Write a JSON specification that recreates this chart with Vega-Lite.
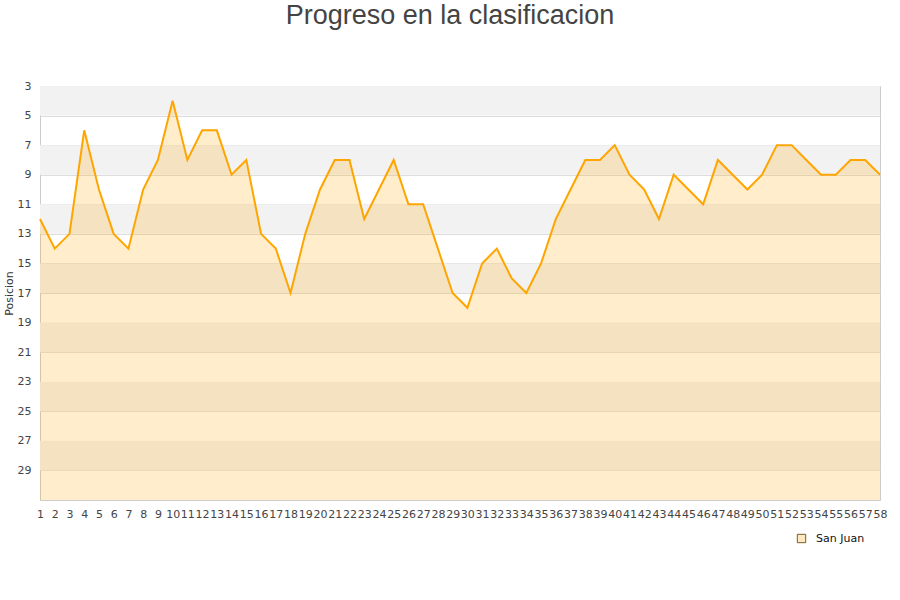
{
  "$schema": "https://vega.github.io/schema/vega-lite/v6.json",
  "autosize": "none",
  "padding": {"left": 40, "top": 86, "right": 20, "bottom": 100},
  "width": 840,
  "height": 414,
  "background": "white",
  "title": {
    "text": "Progreso en la clasificacion",
    "anchor": "middle",
    "dx": -10,
    "offset": 50,
    "font": "Liberation Sans",
    "fontSize": 27,
    "fontWeight": "normal",
    "color": "#444444"
  },
  "datasets": {
    "bandas": [
      {"desde": 3, "hasta": 5},
      {"desde": 7, "hasta": 9},
      {"desde": 11, "hasta": 13},
      {"desde": 15, "hasta": 17},
      {"desde": 19, "hasta": 21},
      {"desde": 23, "hasta": 25},
      {"desde": 27, "hasta": 29}
    ],
    "progreso": [
      {"jornada": 1, "posicion": 12, "equipo": "San Juan"},
      {"jornada": 2, "posicion": 14, "equipo": "San Juan"},
      {"jornada": 3, "posicion": 13, "equipo": "San Juan"},
      {"jornada": 4, "posicion": 6, "equipo": "San Juan"},
      {"jornada": 5, "posicion": 10, "equipo": "San Juan"},
      {"jornada": 6, "posicion": 13, "equipo": "San Juan"},
      {"jornada": 7, "posicion": 14, "equipo": "San Juan"},
      {"jornada": 8, "posicion": 10, "equipo": "San Juan"},
      {"jornada": 9, "posicion": 8, "equipo": "San Juan"},
      {"jornada": 10, "posicion": 4, "equipo": "San Juan"},
      {"jornada": 11, "posicion": 8, "equipo": "San Juan"},
      {"jornada": 12, "posicion": 6, "equipo": "San Juan"},
      {"jornada": 13, "posicion": 6, "equipo": "San Juan"},
      {"jornada": 14, "posicion": 9, "equipo": "San Juan"},
      {"jornada": 15, "posicion": 8, "equipo": "San Juan"},
      {"jornada": 16, "posicion": 13, "equipo": "San Juan"},
      {"jornada": 17, "posicion": 14, "equipo": "San Juan"},
      {"jornada": 18, "posicion": 17, "equipo": "San Juan"},
      {"jornada": 19, "posicion": 13, "equipo": "San Juan"},
      {"jornada": 20, "posicion": 10, "equipo": "San Juan"},
      {"jornada": 21, "posicion": 8, "equipo": "San Juan"},
      {"jornada": 22, "posicion": 8, "equipo": "San Juan"},
      {"jornada": 23, "posicion": 12, "equipo": "San Juan"},
      {"jornada": 24, "posicion": 10, "equipo": "San Juan"},
      {"jornada": 25, "posicion": 8, "equipo": "San Juan"},
      {"jornada": 26, "posicion": 11, "equipo": "San Juan"},
      {"jornada": 27, "posicion": 11, "equipo": "San Juan"},
      {"jornada": 28, "posicion": 14, "equipo": "San Juan"},
      {"jornada": 29, "posicion": 17, "equipo": "San Juan"},
      {"jornada": 30, "posicion": 18, "equipo": "San Juan"},
      {"jornada": 31, "posicion": 15, "equipo": "San Juan"},
      {"jornada": 32, "posicion": 14, "equipo": "San Juan"},
      {"jornada": 33, "posicion": 16, "equipo": "San Juan"},
      {"jornada": 34, "posicion": 17, "equipo": "San Juan"},
      {"jornada": 35, "posicion": 15, "equipo": "San Juan"},
      {"jornada": 36, "posicion": 12, "equipo": "San Juan"},
      {"jornada": 37, "posicion": 10, "equipo": "San Juan"},
      {"jornada": 38, "posicion": 8, "equipo": "San Juan"},
      {"jornada": 39, "posicion": 8, "equipo": "San Juan"},
      {"jornada": 40, "posicion": 7, "equipo": "San Juan"},
      {"jornada": 41, "posicion": 9, "equipo": "San Juan"},
      {"jornada": 42, "posicion": 10, "equipo": "San Juan"},
      {"jornada": 43, "posicion": 12, "equipo": "San Juan"},
      {"jornada": 44, "posicion": 9, "equipo": "San Juan"},
      {"jornada": 45, "posicion": 10, "equipo": "San Juan"},
      {"jornada": 46, "posicion": 11, "equipo": "San Juan"},
      {"jornada": 47, "posicion": 8, "equipo": "San Juan"},
      {"jornada": 48, "posicion": 9, "equipo": "San Juan"},
      {"jornada": 49, "posicion": 10, "equipo": "San Juan"},
      {"jornada": 50, "posicion": 9, "equipo": "San Juan"},
      {"jornada": 51, "posicion": 7, "equipo": "San Juan"},
      {"jornada": 52, "posicion": 7, "equipo": "San Juan"},
      {"jornada": 53, "posicion": 8, "equipo": "San Juan"},
      {"jornada": 54, "posicion": 9, "equipo": "San Juan"},
      {"jornada": 55, "posicion": 9, "equipo": "San Juan"},
      {"jornada": 56, "posicion": 8, "equipo": "San Juan"},
      {"jornada": 57, "posicion": 8, "equipo": "San Juan"},
      {"jornada": 58, "posicion": 9, "equipo": "San Juan"}
    ]
  },
  "layer": [
    {
      "data": {"name": "bandas"},
      "mark": {"type": "rect", "color": "#f2f2f2"},
      "encoding": {
        "y": {"field": "desde", "type": "quantitative"},
        "y2": {"field": "hasta"}
      }
    },
    {
      "data": {"name": "progreso"},
      "mark": {"type": "area", "fillOpacity": 0.2},
      "encoding": {
        "x": {
          "field": "jornada",
          "type": "quantitative",
          "scale": {"domain": [1, 58], "nice": false, "zero": false},
          "axis": {
            "values": [1,2,3,4,5,6,7,8,9,10,11,12,13,14,15,16,17,18,19,20,21,22,23,24,25,26,27,28,29,30,31,32,33,34,35,36,37,38,39,40,41,42,43,44,45,46,47,48,49,50,51,52,53,54,55,56,57,58],
            "tickCount": 100,
            "format": "d",
            "title": null,
            "grid": false,
            "ticks": false,
            "domain": false,
            "labelAngle": 0,
            "labelOverlap": false,
            "labelFlush": false,
            "labelBound": false,
            "labelPadding": 8,
            "labelFontSize": 11,
            "labelColor": "#444444"
          }
        },
        "y": {
          "field": "posicion",
          "type": "quantitative",
          "scale": {"domain": [3, 31], "reverse": true, "nice": false, "zero": false},
          "axis": {
            "values": [3,5,7,9,11,13,15,17,19,21,23,25,27,29],
            "tickCount": 50,
            "format": "d",
            "title": "Posicion",
            "titleFontSize": 11,
            "titleFontWeight": "normal",
            "titleColor": "#333333",
            "titlePadding": 3,
            "grid": true,
            "gridColor": "#dddddd",
            "ticks": false,
            "domain": false,
            "labelOverlap": false,
            "labelFlush": false,
            "labelBound": false,
            "labelPadding": 9,
            "labelFontSize": 11,
            "labelColor": "#444444"
          }
        },
        "y2": {"datum": 31},
        "color": {
          "field": "equipo",
          "type": "nominal",
          "scale": {"domain": ["San Juan"], "range": ["#ffa500"]},
          "legend": {
            "title": null,
            "orient": "none",
            "legendX": 756,
            "legendY": 447,
            "symbolType": "square",
            "symbolSize": 70,
            "labelOffset": 9,
            "labelFontSize": 11,
            "labelColor": "#111111",
            "padding": 0,
            "encode": {
              "symbols": {
                "update": {
                  "fillOpacity": {"value": 0.25},
                  "strokeOpacity": {"value": 1},
                  "stroke": {"value": "#7a5c2e"},
                  "strokeWidth": {"value": 1}
                }
              }
            }
          }
        }
      }
    },
    {
      "data": {"name": "progreso"},
      "mark": {"type": "line", "color": "#ffa500", "strokeWidth": 2},
      "encoding": {
        "x": {"field": "jornada", "type": "quantitative"},
        "y": {"field": "posicion", "type": "quantitative"}
      }
    }
  ],
  "config": {
    "font": "DejaVu Sans",
    "axis": {"labelOverlap": false, "labelFlush": false},
    "view": {"stroke": "#cccccc", "strokeWidth": 1}
  }
}
